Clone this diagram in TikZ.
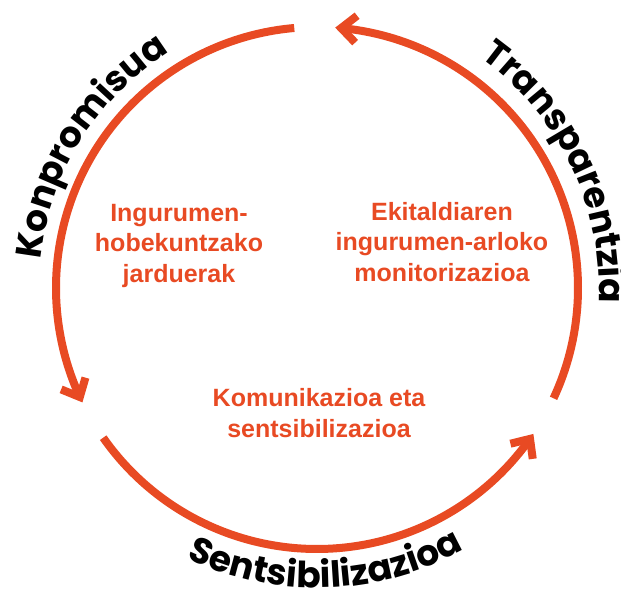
\documentclass[tikz,border=0pt]{standalone}
\usepackage{fontspec}
\usetikzlibrary{arrows.meta}
\usetikzlibrary{bending}
\usetikzlibrary{decorations.text}
\newfontfamily\stagefamily{Liberation Sans}
\newfontfamily\arcfamily{Poppins}
\newcommand{\stagefont}{\stagefamily\bfseries\fontsize{25}{30.5}\selectfont}
\newcommand{\labelfont}{\arcfamily\bfseries\fontsize{36}{36}\selectfont}
\definecolor{cycleorange}{HTML}{E84A23}
\tikzset{stagetext/.style={text=cycleorange,font=\stagefont,
align=center,inner sep=0pt}}
\tikzset{cyclearc/.style={draw=cycleorange,line width=8pt,
-{Straight Barb[sharp,length=15pt,width=27pt]}}}
\tikzset{arclabel/.style={decorate,decoration={text along path,
text={|\labelfont|#1},text align=center}}}

\begin{document}
\begin{tikzpicture}[x=1pt,y=1pt]
        \useasboundingbox (0,0) rectangle (621,596);
        \coordinate (c) at (317,308);

        \node[stagetext] (actions) at (179,350) {Ingurumen-\\hobekuntzako\\jarduerak};
        \node[stagetext] (monitoring) at (442,354) {Ekitaldiaren\\ingurumen-arloko\\monitorizazioa};
        \node[stagetext] (communication) at (319,183) {Komunikazioa eta\\sentsibilizazioa};

        \coordinate (arcAs) at ([shift={(95:261)}]c);
        \coordinate (arcBs) at ([shift={(215:261)}]c);
        \coordinate (arcCs) at ([shift={(335:261)}]c);
        \draw[cyclearc] (arcAs) arc[start angle=95,end angle=206,radius=261];
        \draw[cyclearc] (arcBs) arc[start angle=215,end angle=326,radius=261];
        \draw[cyclearc] (arcCs) arc[start angle=335,end angle=446,radius=261];

        \coordinate (labelAs) at ([shift={(178:278)}]c);
        \coordinate (labelBs) at ([shift={(231.8:300)}]c);
        \coordinate (labelCs) at ([shift={(55.8:282)}]c);
        \path[arclabel={Konpromisua}] (labelAs) arc[start angle=178,end angle=118,radius=278];
        \path[arclabel={Sentsibilizazioa}] (labelBs) arc[start angle=231.8,end angle=311.8,radius=300];
        \path[arclabel={Transparentzia}] (labelCs) arc[start angle=55.8,end angle=-4.2,radius=282];

    \end{tikzpicture}
\end{document}
